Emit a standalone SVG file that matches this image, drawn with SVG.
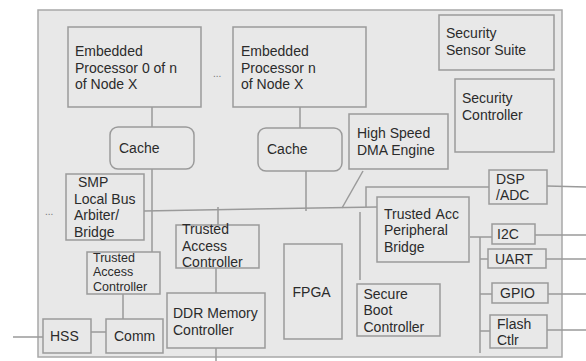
<svg xmlns="http://www.w3.org/2000/svg" width="586" height="361" viewBox="0 0 586 361">
  <style>
    .box { fill: #e8e8e8; stroke: #9a9a9a; stroke-width: 1.5; }
    .wire { stroke: #9a9a9a; stroke-width: 1.5; fill: none; }
    text { font-family: "Liberation Sans", Arial, sans-serif; font-size: 14px; fill: #2b2b2b; }
    .sm { font-size: 12.5px; }
    .dots { font-size: 10px; fill: #777; }
  </style>
  <rect width="586" height="361" fill="#ffffff"/>

  <!-- node enclosure -->
  <g id="node-x">
    <rect x="38" y="10" width="524" height="347" fill="#e8e8e8" stroke="#a8a8a8" stroke-width="1.5"/>
    <text class="dots" x="213" y="77">...</text>
    <text class="dots" x="45" y="215">...</text>
  </g>

  <!-- connectors -->
  <g id="connectors">
    <line class="wire" x1="152" y1="107" x2="152" y2="127"/>
    <line class="wire" x1="152" y1="169" x2="152" y2="252"/>
    <line class="wire" x1="300" y1="107" x2="300" y2="128"/>
    <line class="wire" x1="306" y1="171" x2="306" y2="211"/>
    <line class="wire" x1="144" y1="211" x2="377" y2="207"/>
    <line class="wire" x1="363" y1="171" x2="342" y2="208"/>
    <line class="wire" x1="218" y1="207" x2="218" y2="225"/>
    <line class="wire" x1="216" y1="268" x2="216" y2="293"/>
    <line class="wire" x1="216" y1="348" x2="216" y2="361"/>
    <line class="wire" x1="123" y1="294" x2="123" y2="319"/>
    <line class="wire" x1="91" y1="332" x2="106" y2="332"/>
    <line class="wire" x1="13" y1="337" x2="43" y2="337"/>
    <polyline class="wire" points="366,207 366,187 489,187"/>
    <line class="wire" x1="360" y1="212" x2="360" y2="280"/>
    <line class="wire" x1="547" y1="186" x2="586" y2="187"/>
    <line class="wire" x1="470" y1="237" x2="492" y2="237"/>
    <line class="wire" x1="480" y1="237" x2="480" y2="353"/>
    <line class="wire" x1="480" y1="259" x2="488" y2="259"/>
    <line class="wire" x1="480" y1="294" x2="492" y2="294"/>
    <line class="wire" x1="480" y1="331" x2="490" y2="331"/>
    <line class="wire" x1="535" y1="235" x2="586" y2="235"/>
    <line class="wire" x1="546" y1="259" x2="586" y2="259"/>
    <line class="wire" x1="548" y1="294" x2="586" y2="294"/>
    <line class="wire" x1="547" y1="330" x2="586" y2="330"/>
  </g>

  <g id="proc-0">
    <rect class="box" x="68" y="27" width="133" height="80"/>
    <text x="75" y="56">Embedded</text>
    <text x="75" y="72.5">Processor 0 of n</text>
    <text x="75" y="89">of Node X</text>
  </g>

  <g id="proc-n">
    <rect class="box" x="233" y="27" width="133" height="80"/>
    <text x="241" y="56">Embedded</text>
    <text x="241" y="72.5">Processor n</text>
    <text x="241" y="89">of Node X</text>
  </g>

  <g id="cache-0">
    <rect class="box" x="110" y="127" width="84" height="42" rx="8"/>
    <text x="119" y="153">Cache</text>
  </g>

  <g id="cache-n">
    <rect class="box" x="258" y="128" width="84" height="43" rx="8"/>
    <text x="267" y="154">Cache</text>
  </g>

  <g id="dma">
    <rect class="box" x="349" y="114" width="99" height="55"/>
    <text x="357" y="138">High Speed</text>
    <text x="357" y="155">DMA Engine</text>
  </g>

  <g id="sensor-suite">
    <rect class="box" x="439" y="15" width="115" height="55"/>
    <text x="446" y="38">Security</text>
    <text x="446" y="54.5">Sensor Suite</text>
  </g>

  <g id="security-controller">
    <rect class="box" x="455" y="79" width="99" height="73"/>
    <text x="462" y="103">Security</text>
    <text x="462" y="119.5">Controller</text>
  </g>

  <g id="smp-bridge">
    <rect class="box" x="66" y="174" width="78" height="66"/>
    <text x="78" y="187">SMP</text>
    <text x="74" y="203.5">Local Bus</text>
    <text x="74" y="220">Arbiter/</text>
    <text x="74" y="236.5">Bridge</text>
  </g>

  <g id="tac-left">
    <rect class="box" x="87" y="252" width="73" height="42"/>
    <text class="sm" x="93" y="262">Trusted</text>
    <text class="sm" x="93" y="275.5">Access</text>
    <text class="sm" x="93" y="291">Controller</text>
  </g>

  <g id="tac-mid">
    <rect class="box" x="176" y="225" width="83" height="43"/>
    <text x="182" y="234">Trusted</text>
    <text x="182" y="250.5">Access</text>
    <text x="182" y="267">Controller</text>
  </g>

  <g id="ddr">
    <rect class="box" x="167" y="293" width="98" height="55"/>
    <text x="173" y="318">DDR Memory</text>
    <text x="173" y="334.5">Controller</text>
  </g>

  <g id="fpga">
    <rect class="box" x="284" y="244" width="58" height="95"/>
    <text x="292.5" y="297">FPGA</text>
  </g>

  <g id="hss">
    <rect class="box" x="43" y="319" width="48" height="34"/>
    <text x="50" y="341">HSS</text>
  </g>

  <g id="comm">
    <rect class="box" x="106" y="319" width="57" height="34"/>
    <text x="114" y="341">Comm</text>
  </g>

  <g id="periph-bridge">
    <rect class="box" x="377" y="197" width="92" height="65"/>
    <text x="384" y="218.5" word-spacing="1.5">Trusted Acc</text>
    <text x="384" y="235">Peripheral</text>
    <text x="384" y="251.5">Bridge</text>
  </g>

  <g id="secure-boot">
    <rect class="box" x="357" y="284" width="83" height="52"/>
    <text x="363.5" y="298.5">Secure</text>
    <text x="363.5" y="315">Boot</text>
    <text x="363.5" y="331.5">Controller</text>
  </g>

  <g id="dsp-adc">
    <rect class="box" x="489" y="170" width="58" height="34"/>
    <text x="496" y="183.5">DSP</text>
    <text x="496" y="199.5">/ADC</text>
  </g>

  <g id="i2c">
    <rect class="box" x="492" y="224" width="43" height="20"/>
    <text x="497" y="238.5">I2C</text>
  </g>

  <g id="uart">
    <rect class="box" x="488" y="249" width="58" height="19"/>
    <text x="495" y="263.5">UART</text>
  </g>

  <g id="gpio">
    <rect class="box" x="492" y="283" width="56" height="20"/>
    <text x="500" y="297.5">GPIO</text>
  </g>

  <g id="flash">
    <rect class="box" x="490" y="315" width="57" height="33"/>
    <text x="497" y="328.5">Flash</text>
    <text x="497" y="345">Ctlr</text>
  </g>
</svg>
